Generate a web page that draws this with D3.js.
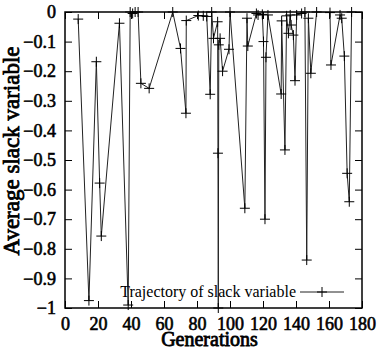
<!DOCTYPE html>
<html lang="en">
<head>
<meta charset="utf-8">
<title>slack trajectory</title>
<script src="https://d3js.org/d3.v7.min.js"></script>
<style>
  body { margin: 0; background: #fff; }
  .tick text { font-family: "Liberation Serif", serif; font-size: 18px; stroke: #000; stroke-width: 0.6px; }
  .blabel { font-family: "Liberation Serif", serif; stroke: #000; stroke-width: 0.8px; }
</style>
</head>
<body>
<div id="chart"></div>
<script>
// data
var generations = [8, 14.5, 19, 21, 22, 33, 38.3, 39.5, 41, 42.5,
  44.3, 46, 51, 65.3, 70, 73.3, 73.5, 80.8, 83.8, 85.9,
  88, 88.9, 90, 92.5, 92.7, 92.9, 93.2, 94, 95.5, 99.4,
  100, 109, 110.3, 110.8, 116, 117, 119.6, 120.3, 121.2, 121.8,
  123, 131, 131.3, 133.3, 134.3, 135.4, 136.5, 137, 138.4, 139.4,
  140.4, 143.4, 145.4, 146.5, 147.5, 149, 152.5, 160.6, 161.2, 166.7,
  167.7, 169.3, 171, 172.3, 173.7];
var slack = [-0.024, -0.975, -0.168, -0.578, -0.757, -0.038, -0.99, 0, -0.005, 0,
  0, -0.241, -0.258, 0, -0.123, -0.342, -0.029, -0.012, -0.013, -0.015,
  -0.278, 0, -0.089, -0.033, -0.477, -1.0, -0.111, -0.089, -0.2, -0.126,
  0, -0.663, -0.021, -0.115, -0.005, -0.01, -0.008, -0.1, -0.7, -0.153,
  -0.01, -0.277, -0.03, -0.466, -0.013, -0.072, -0.01, -0.044, -0.078, -0.232,
  -0.01, -0.005, 0, -0.838, -0.021, -0.207, 0, -0.002, -0.179, -0.01,
  -0.021, -0.149, -0.545, -0.641, 0];
var xTicks = [0, 20, 40, 60, 80, 100, 120, 140, 160, 180];
var yTicks = [0, -0.1, -0.2, -0.3, -0.4, -0.5, -0.6, -0.7, -0.8, -0.9, -1];
var seriesName = "Trajectory of slack variable";

var w = 377, h = 351;
var margin = {top: 12, right: 15, bottom: 43, left: 65};
var width = w - margin.left - margin.right,
    height = h - margin.top - margin.bottom;

var svg = d3.select("#chart").append("svg")
    .attr("width", w)
    .attr("height", h)
  .append("g")
    .attr("transform", "translate(" + margin.left + "," + margin.top + ")");

var x = d3.scaleLinear().domain([0, 180]).range([0, width]);
var y = d3.scaleLinear().domain([-1, 0]).range([height, 0]);

function fmt(d) {
  if (d === 0) return "0";
  return "\u2212" + d3.format("")(Math.abs(d));
}

// axes, ticks pointing inward, mirrored on top/right
svg.append("g").attr("class", "x axis")
    .attr("transform", "translate(0," + height + ")")
    .call(d3.axisBottom(x).tickValues(xTicks).tickSize(-7).tickPadding(9).tickFormat(d3.format("d")));
svg.append("g").attr("class", "x2 axis")
    .call(d3.axisTop(x).tickValues(xTicks).tickSize(-7).tickFormat(""));
svg.append("g").attr("class", "y axis")
    .call(d3.axisLeft(y).tickValues(yTicks).tickSize(-7).tickPadding(9).tickFormat(fmt));
svg.append("g").attr("class", "y2 axis")
    .attr("transform", "translate(" + width + ",0)")
    .call(d3.axisRight(y).tickValues(yTicks).tickSize(-7).tickFormat(""));

svg.selectAll(".axis path").remove();
svg.selectAll(".axis line").attr("stroke", "#000").attr("stroke-width", 1);
svg.selectAll(".tick text").attr("fill", "#000");

svg.append("rect")
    .attr("width", width).attr("height", height)
    .attr("fill", "none").attr("stroke", "#000").attr("stroke-width", 1.5);

// trajectory
var pts = generations.map(function(g, i) { return [g, slack[i]]; });

svg.append("path")
    .datum(pts)
    .attr("fill", "none")
    .attr("stroke", "#222")
    .attr("stroke-width", 1)
    .attr("d", d3.line().x(function(d) { return x(d[0]); }).y(function(d) { return y(d[1]); }));

function drawPlus(sel) {
  sel.append("path").attr("d", "M-5,0H5M0,-5V5")
    .attr("stroke", "#000").attr("stroke-width", 1).attr("fill", "none");
}

svg.selectAll(".pt")
    .data(pts)
  .enter().append("g")
    .attr("class", "pt")
    .attr("transform", function(d) { return "translate(" + x(d[0]) + "," + y(d[1]) + ")"; })
    .call(drawPlus);

// legend
var legend = svg.append("g").attr("transform", "translate(" + (width - 62) + "," + (height - 16) + ")");
legend.append("text")
    .attr("x", -4).attr("y", 5)
    .attr("text-anchor", "end")
    .style("font-family", "Liberation Serif, serif")
    .style("font-size", "16px")
    .text(seriesName);
legend.append("line")
    .attr("x1", 0).attr("x2", 44).attr("y1", 0).attr("y2", 0)
    .attr("stroke", "#222").attr("stroke-width", 1);
legend.append("g").attr("transform", "translate(22,0)").call(drawPlus);

// axis labels
svg.append("text")
    .attr("class", "blabel")
    .attr("x", width / 2 - 4)
    .attr("y", height + 38)
    .attr("text-anchor", "middle")
    .style("font-size", "20px")
    .text("Generations");

svg.append("text")
    .attr("class", "blabel")
    .attr("transform", "rotate(-90)")
    .attr("x", -height / 2 + 9)
    .attr("y", -46)
    .attr("text-anchor", "middle")
    .style("font-size", "23px")
    .text("Average slack variable");
</script>
</body>
</html>
